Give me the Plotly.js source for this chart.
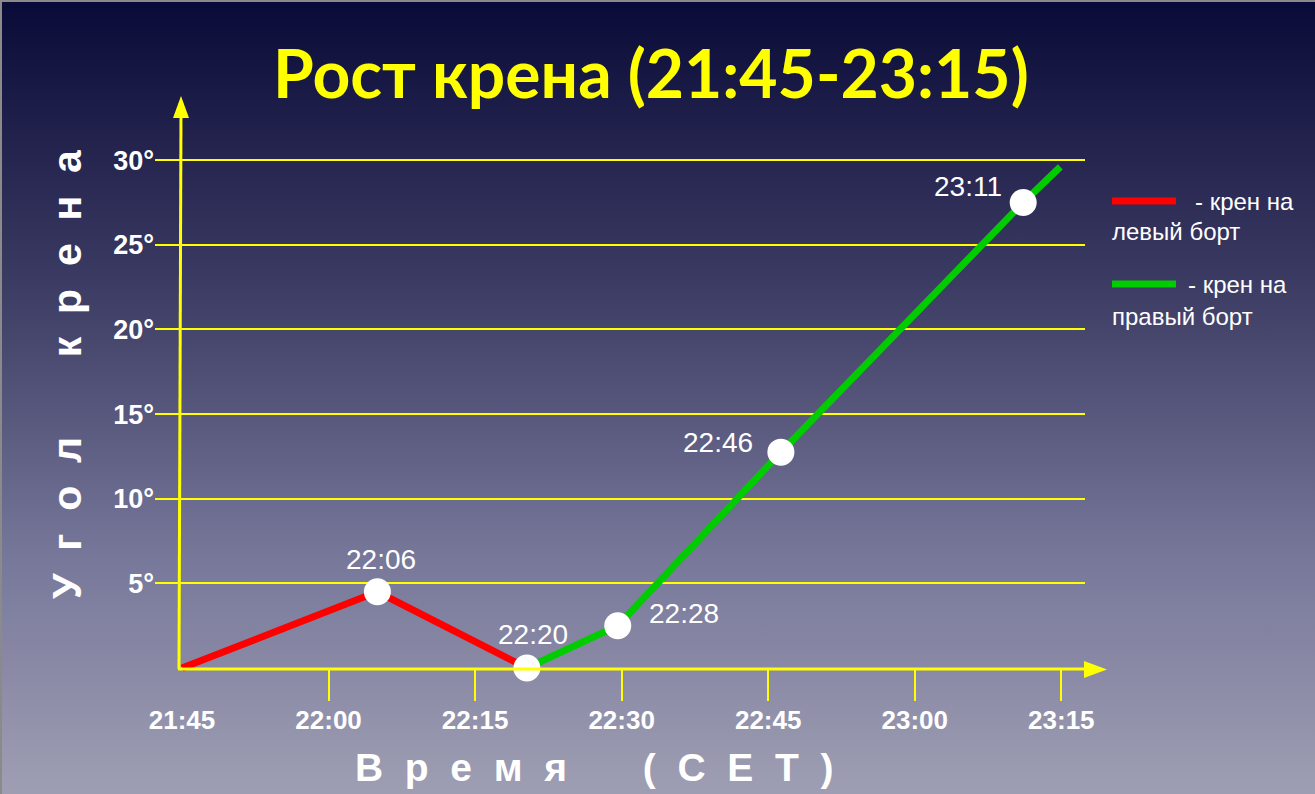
<!DOCTYPE html>
<html>
<head>
<meta charset="utf-8">
<script src="https://cdn.plot.ly/plotly-3.0.1.min.js"></script>
<style>
  html, body { margin: 0; padding: 0; }
  #chart {
    width: 1315px; height: 794px;
    background: linear-gradient(to bottom, #0a0a38 0%, #3a3a62 35%, #77779a 70%, #9e9eb3 100%);
    box-shadow: inset 2px 2px 0 #8a8a8a;
  }
</style>
</head>
<body>
<div id="chart"></div>
<script>
// время в минутах от 21:45
const tickMinutes = [0, 15, 30, 45, 60, 75, 90];
const timeLabels = ["21:45", "22:00", "22:15", "22:30", "22:45", "23:00", "23:15"];
const degTicks = [5, 10, 15, 20, 25, 30];
const degLabels = ["5°", "10°", "15°", "20°", "25°", "30°"];

// крен на левый борт (красный)
const leftX = [0, 20, 35.3];
const leftY = [0, 4.5, 0];
// крен на правый борт (зелёный)
const rightX = [35.3, 44.6, 61.3, 86.1, 89.9];
const rightY = [0, 2.5, 12.75, 27.5, 29.6];
// отмеченные моменты
const pointX = [20, 35.3, 44.6, 61.3, 86.1];
const pointY = [4.5, 0, 2.5, 12.75, 27.5];
const pointLabels = ["22:06", "22:20", "22:28", "22:46", "23:11"];

const title = "Рост крена (21:45-23:15)";
const yTitleWords = ["Угол", "крена"];
const xTitleWords = ["Время", "(СЕТ)"];
const legendLeft = ["- крен на", "левый борт"];
const legendRight = ["- крен на", "правый борт"];

// смещение подписей точек, px
const labelShift = [[4, 32], [6, 34], [66, 12], [-63, 10], [-55, 16]];

// plot area in pixels
const L = 155, R = 1085, T = 120, B = 680;
const x0px = 182, pxPerMin = 9.77;
const y0px = 668, pxPerDeg = 16.93;
const px = p => (p - L) / (R - L);
const py = p => (B - p) / (B - T);

const xRange = [(L - x0px) / pxPerMin, (R - x0px) / pxPerMin];
const yRange = [-(B - y0px) / pxPerDeg, (y0px - T) / pxPerDeg];
const axisPos = py(669);

const YEL = "#ffff00";
const ARIAL = "Liberation Sans, Arial, sans-serif";

function spaced(words) {
    const gap = "\u00a0\u00a0";
    const wordGap = "\u00a0".repeat(7);
    return words.map(w => w.split("").join(gap)).join(wordGap);
}

const traces = [
    {
        x: leftX, y: leftY, mode: "lines", type: "scatter",
        line: { color: "#ff0000", width: 7 }, hoverinfo: "skip"
    },
    {
        x: rightX, y: rightY, mode: "lines", type: "scatter",
        line: { color: "#00cc00", width: 7 }, hoverinfo: "skip"
    },
    {
        x: pointX, y: pointY, mode: "markers", type: "scatter", xaxis: "x2",
        marker: { size: 27, color: "#ffffff" },
        cliponaxis: false, hoverinfo: "skip"
    }
];

const shapes = [
    // ось Y
    { type: "line", xref: "paper", yref: "paper", x0: px(179), x1: px(181), y0: py(669), y1: py(112),
      line: { color: YEL, width: 3 } },
    { type: "path", xref: "paper", yref: "paper",
      path: `M ${px(181)},${py(96)} L ${px(173)},${py(118)} L ${px(189)},${py(118)} Z`,
      fillcolor: YEL, line: { width: 0 } },
    // ось X
    { type: "line", xref: "paper", yref: "paper", x0: px(178), x1: px(1090), y0: py(669), y1: py(669),
      line: { color: YEL, width: 3 } },
    { type: "path", xref: "paper", yref: "paper",
      path: `M ${px(1107)},${py(669.5)} L ${px(1084)},${py(661)} L ${px(1084)},${py(678)} Z`,
      fillcolor: YEL, line: { width: 0 } },
    // легенда
    { type: "line", xref: "paper", yref: "paper", x0: px(1112), x1: px(1176), y0: py(201), y1: py(201),
      line: { color: "#ff0000", width: 7 } },
    { type: "line", xref: "paper", yref: "paper", x0: px(1112), x1: px(1176), y0: py(284), y1: py(284),
      line: { color: "#00cc00", width: 7 } }
];

const legendFont = { family: ARIAL, size: 24, color: "#ffffff" };
function note(x, y, text, xanchor, font, extra) {
    return Object.assign({ xref: "paper", yref: "paper", x: px(x), y: py(y), text: text,
        xanchor: xanchor, yanchor: "middle", showarrow: false, font: font }, extra || {});
}

const annotations = [
    note(67, 374, spaced(yTitleWords), "center",
         { family: ARIAL, size: 41, color: "#ffffff", weight: "bold" }, { textangle: -90 }),
    note(594, 767, spaced(xTitleWords), "center",
         { family: ARIAL, size: 39, color: "#ffffff", weight: "bold" }),
    note(1193, 201, legendLeft[0], "left", legendFont),
    note(1110, 232, legendLeft[1], "left", legendFont),
    note(1186, 284, legendRight[0], "left", legendFont),
    note(1110, 316, legendRight[1], "left", legendFont)
];

pointLabels.forEach((t, i) => {
    annotations.push({
        xref: "x2", yref: "y", x: pointX[i], y: pointY[i], text: t,
        xshift: labelShift[i][0], yshift: labelShift[i][1],
        xanchor: "center", yanchor: "middle", showarrow: false,
        font: { family: ARIAL, size: 28, color: "#ffffff" }
    });
});

const layout = {
    width: 1315, height: 794,
    margin: { l: L, r: 1315 - R, t: T, b: 794 - B },
    paper_bgcolor: "rgba(0,0,0,0)",
    plot_bgcolor: "rgba(0,0,0,0)",
    showlegend: false,
    title: {
        text: title, x: 0.495, xanchor: "center", y: 1 - 75 / 794, yanchor: "middle",
        font: { family: "Lato, sans-serif", size: 66, color: YEL, weight: "bold" }
    },
    xaxis: {
        range: xRange, anchor: "free", position: axisPos,
        tickvals: tickMinutes.slice(1), showticklabels: false,
        ticks: "outside", ticklen: 31, tickwidth: 2, tickcolor: YEL,
        showgrid: false, zeroline: false, showline: false, fixedrange: true
    },
    xaxis2: {
        range: xRange, overlaying: "x", anchor: "free", position: axisPos,
        tickvals: tickMinutes, ticktext: timeLabels,
        ticks: "outside", ticklen: 28, tickcolor: "rgba(0,0,0,0)",
        tickfont: { family: ARIAL, size: 26, color: "#ffffff", weight: "bold" },
        showgrid: false, zeroline: false, showline: false, fixedrange: true
    },
    yaxis: {
        range: yRange, tickvals: degTicks, ticktext: degLabels,
        tickfont: { family: ARIAL, size: 27, color: "#ffffff", weight: "bold" },
        showgrid: true, gridcolor: YEL, gridwidth: 2,
        zeroline: false, showline: false, ticks: "", fixedrange: true
    },
    shapes: shapes,
    annotations: annotations
};

Plotly.newPlot("chart", traces, layout, { staticPlot: true });
</script>
</body>
</html>
